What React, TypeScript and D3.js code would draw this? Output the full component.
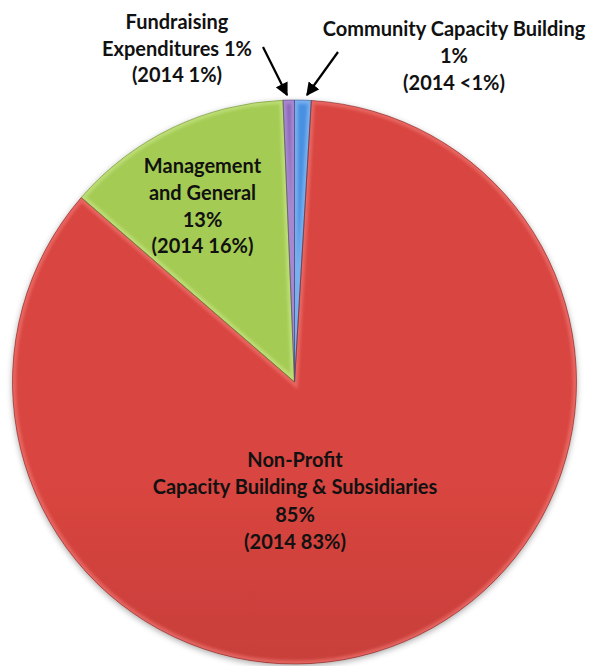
import React from "react";
import * as d3 from "d3";

const categories = [
  "Community Capacity Building",
  "Non-Profit Capacity Building & Subsidiaries",
  "Management and General",
  "Fundraising Expenditures",
];
const values = [0.95, 85.4, 13.0, 0.65];
const pctLabels = ["1%", "85%", "13%", "1%"];
const priorLabels = ["(2014 <1%)", "(2014 83%)", "(2014 16%)", "(2014 1%)"];

const colorsTop = ["#4a90e2", "#d9453f", "#a4cb52", "#8a66b8"];
const colorsBottom = ["#3a74bd", "#a4322e", "#8fb143", "#70529a"];
const colorsBevel = ["#8cbcf2", "#ee7470", "#c6e485", "#b497da"];
const colorsEdge = ["#2c5a94", "#7a2321", "#6a8a30", "#553f78"];

const W = 593;
const H = 666;
const cx = 294.5;
const cy = 382;
const R = 282;

const labelLines: string[][] = [
  ["Community Capacity Building", pctLabels[0], priorLabels[0]],
  ["Non-Profit", "Capacity Building & Subsidiaries", pctLabels[1], priorLabels[1]],
  ["Management", "and General", pctLabels[2], priorLabels[2]],
  ["Fundraising", "Expenditures " + pctLabels[3], priorLabels[3]],
];
const labelPos = [
  [454, 36, 27],
  [295, 467, 27.3],
  [202.5, 173, 26.8],
  [177, 29, 26.5],
];

export default function App() {
  const pie = d3
    .pie<number>()
    .sort(null)
    .startAngle(0)
    .endAngle(2 * Math.PI)(values);
  const arc = d3.arc<d3.PieArcDatum<number>>().innerRadius(0).outerRadius(R);

  return (
    <svg width={W} height={H} style={{ position: "absolute", left: 0, top: 0 }}>
      <defs>
        <filter id="shadow" x="-10%" y="-10%" width="120%" height="120%">
          <feDropShadow dx="0" dy="2" stdDeviation="3" floodColor="#000" floodOpacity="0.35" />
        </filter>
        <filter id="blur" x="-10%" y="-10%" width="120%" height="120%">
          <feGaussianBlur stdDeviation="1.6" />
        </filter>
        {values.map((_, i) => (
          <linearGradient
            key={i}
            id={`g${i}`}
            gradientUnits="userSpaceOnUse"
            x1={0}
            y1={cy - R}
            x2={0}
            y2={cy + R}
          >
            <stop offset="0%" stopColor={colorsTop[i]} />
            <stop offset="100%" stopColor={colorsBottom[i]} />
          </linearGradient>
        ))}
        {pie.map((d, i) => (
          <clipPath key={i} id={`c${i}`}>
            <path d={arc(d) || ""} transform={`translate(${cx},${cy})`} />
          </clipPath>
        ))}
        <marker
          id="arrow"
          viewBox="0 0 10 10"
          refX="9"
          refY="5"
          markerWidth="6"
          markerHeight="6"
          orient="auto"
        >
          <path d="M0,0 L10,5 L0,10 Z" fill="#000" />
        </marker>
      </defs>
      <g filter="url(#shadow)">
        {pie.map((d, i) => (
          <path
            key={i}
            d={arc(d) || ""}
            transform={`translate(${cx},${cy})`}
            fill={`url(#g${i})`}
          />
        ))}
      </g>
      {pie.map((d, i) => (
        <g key={i} clipPath={`url(#c${i})`}>
          <path
            d={arc(d) || ""}
            transform={`translate(${cx},${cy})`}
            fill="none"
            stroke={colorsBevel[i]}
            strokeWidth={7}
            strokeOpacity={0.7}
            filter="url(#blur)"
          />
        </g>
      ))}
      {pie.map((d, i) => (
        <path
          key={i}
          d={arc(d) || ""}
          transform={`translate(${cx},${cy})`}
          fill="none"
          stroke={colorsEdge[i]}
          strokeWidth={0.8}
          strokeOpacity={0.7}
        />
      ))}
      <line x1={263} y1={47} x2={287} y2={95} stroke="#000" strokeWidth={2.2} markerEnd="url(#arrow)" />
      <line x1={338} y1={52} x2={307} y2={95} stroke="#000" strokeWidth={2.2} markerEnd="url(#arrow)" />
      {labelLines.map((lines, i) => (
        <text
          key={i}
          textAnchor="middle"
          fontFamily="Lato, 'Open Sans', sans-serif"
          fontWeight={700}
          fontSize={20}
          fill="#111"
        >
          {lines.map((t, j) => (
            <tspan key={j} x={labelPos[i][0]} y={labelPos[i][1] + j * labelPos[i][2]}>
              {t}
            </tspan>
          ))}
        </text>
      ))}
    </svg>
  );
}
